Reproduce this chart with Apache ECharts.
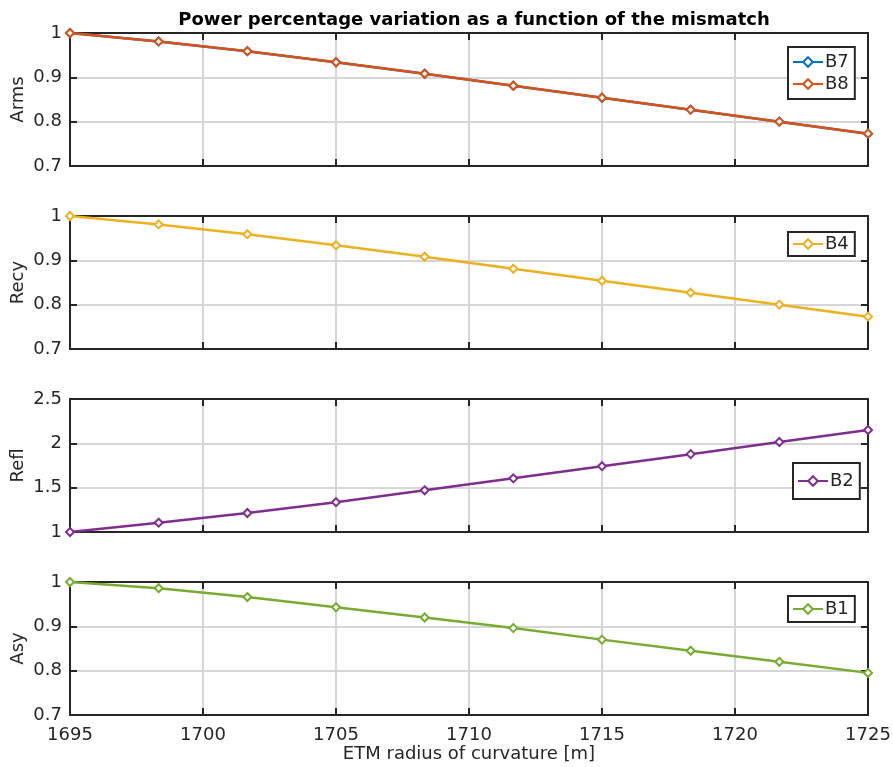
<!DOCTYPE html>
<html>
<head>
<meta charset="utf-8">
<script src="https://cdn.jsdelivr.net/npm/echarts@6/dist/echarts.min.js"></script>
<style>
  html, body { margin: 0; padding: 0; background: #fff; }
  #chart { width: 893px; height: 767px; }
</style>
</head>
<body>
<div id="chart"></div>
<script>
// ETM radius of curvature [m]
const radius = [1695, 1698.333, 1701.667, 1705, 1708.333, 1711.667, 1715, 1718.333, 1721.667, 1725];

// Relative power in each port
const arms_B7 = [1, 0.981, 0.959, 0.934, 0.908, 0.881, 0.854, 0.827, 0.800, 0.773];
const arms_B8 = [1, 0.981, 0.959, 0.934, 0.908, 0.881, 0.854, 0.827, 0.800, 0.773];
const recy_B4 = [1, 0.981, 0.959, 0.934, 0.908, 0.881, 0.854, 0.827, 0.800, 0.773];
const refl_B2 = [1, 1.105, 1.214, 1.336, 1.470, 1.605, 1.742, 1.878, 2.015, 2.150];
const asy_B1  = [1, 0.986, 0.966, 0.943, 0.920, 0.896, 0.870, 0.845, 0.820, 0.795];

// Panel definitions: y label, y range, tick step, series
const panels = [
  { name: 'Arms', min: 0.7, max: 1,   step: 0.1, series: [['B7', arms_B7, '#0072BD'], ['B8', arms_B8, '#D95319']] },
  { name: 'Recy', min: 0.7, max: 1,   step: 0.1, series: [['B4', recy_B4, '#EDB120']] },
  { name: 'Refl', min: 1,   max: 2.5, step: 0.5, series: [['B2', refl_B2, '#7E2F8E']] },
  { name: 'Asy',  min: 0.7, max: 1,   step: 0.1, series: [['B1', asy_B1,  '#77AC30']] }
];

// Legend box placement and inner padding per panel
const legendBox = [
  { left: 788, top: 47,  pad: [6, 6, 6, 4] },
  { left: 788, top: 232, pad: [3, 6, 3, 4] },
  { left: 793, top: 463, pad: [9, 6, 9, 4] },
  { left: 788, top: 596, pad: [4, 6, 4, 4] }
];

const FONT = 'DejaVu Sans';
const INK = '#262626';
const GRIDC = '#d6d6d6';
const FS = 18;

const grids = [], xAxes = [], yAxes = [], series = [], legends = [];

panels.forEach((p, i) => {
  grids.push({ left: 70, right: 25, top: 33 + 183 * i, height: 133, outerBoundsMode: 'none', containLabel: false });
  const last = i === panels.length - 1;
  // bottom x axis
  xAxes.push({
    type: 'value', gridIndex: i, position: 'bottom', min: 1695, max: 1725, interval: 5,
    axisLine: { show: true, lineStyle: { color: INK, width: 2 } },
    axisTick: { show: true, inside: true, length: 7, lineStyle: { color: INK, width: 2 } },
    axisLabel: { show: last, color: INK, fontFamily: FONT, fontSize: FS, margin: 11,
                 formatter: v => String(v) },
    splitLine: { show: true, lineStyle: { color: GRIDC, width: 2 } },
    name: last ? 'ETM radius of curvature [m]' : '',
    nameLocation: 'middle', nameGap: 30, nameMoveOverlap: false,
    nameTextStyle: { color: INK, fontFamily: FONT, fontSize: FS }
  });
  // top x axis (box edge with mirrored ticks)
  xAxes.push({
    type: 'value', gridIndex: i, position: 'top', min: 1695, max: 1725, interval: 5,
    axisLine: { show: true, lineStyle: { color: INK, width: 2 } },
    axisTick: { show: true, inside: true, length: 7, lineStyle: { color: INK, width: 2 } },
    axisLabel: { show: false }, splitLine: { show: false }
  });
  // left y axis
  yAxes.push({
    type: 'value', gridIndex: i, position: 'left', min: p.min, max: p.max, interval: p.step,
    axisLine: { show: true, lineStyle: { color: INK, width: 2 } },
    axisTick: { show: true, inside: true, length: 7, lineStyle: { color: INK, width: 2 } },
    axisLabel: { color: INK, fontFamily: FONT, fontSize: FS, margin: 8 },
    splitLine: { show: true, lineStyle: { color: GRIDC, width: 2 } },
    name: p.name, nameLocation: 'middle', nameGap: 43, nameRotate: 90, nameMoveOverlap: false,
    nameTextStyle: { color: INK, fontFamily: FONT, fontSize: FS }
  });
  // right y axis (box edge with mirrored ticks)
  yAxes.push({
    type: 'value', gridIndex: i, position: 'right', min: p.min, max: p.max, interval: p.step,
    axisLine: { show: true, lineStyle: { color: INK, width: 2 } },
    axisTick: { show: true, inside: true, length: 7, lineStyle: { color: INK, width: 2 } },
    axisLabel: { show: false }, splitLine: { show: false }
  });

  p.series.forEach(([nm, vals, col]) => {
    series.push({
      name: nm, type: 'line', xAxisIndex: 2 * i, yAxisIndex: 2 * i,
      data: radius.map((x, k) => [x, vals[k]]),
      symbol: 'emptyDiamond', symbolSize: 8, showAllSymbol: true,
      color: col,
      lineStyle: { color: col, width: 2.5 },
      itemStyle: { color: col, borderColor: col, borderWidth: 1.3 },
      emphasis: { disabled: true },
      animation: false, clip: false
    });
  });

  legends.push({
    data: p.series.map(s => s[0]),
    orient: 'vertical', left: legendBox[i].left, top: legendBox[i].top,
    backgroundColor: '#fff', borderColor: INK, borderWidth: 2, borderRadius: 0,
    padding: legendBox[i].pad, itemGap: 4, itemWidth: 30, itemHeight: 12,
    textStyle: { color: INK, fontFamily: FONT, fontSize: FS, padding: [0, 0, 0, -3] },
    selectedMode: false
  });
});

const chart = echarts.init(document.getElementById('chart'), null, { renderer: 'canvas' });
chart.setOption({
  backgroundColor: '#fff',
  animation: false,
  title: {
    text: 'Power percentage variation as a function of the mismatch',
    left: 469, top: 6, textAlign: 'center',
    textStyle: { color: '#000', fontFamily: FONT, fontSize: 18, fontWeight: 'bold' }
  },
  grid: grids, xAxis: xAxes, yAxis: yAxes, series: series, legend: legends
});
</script>
</body>
</html>
